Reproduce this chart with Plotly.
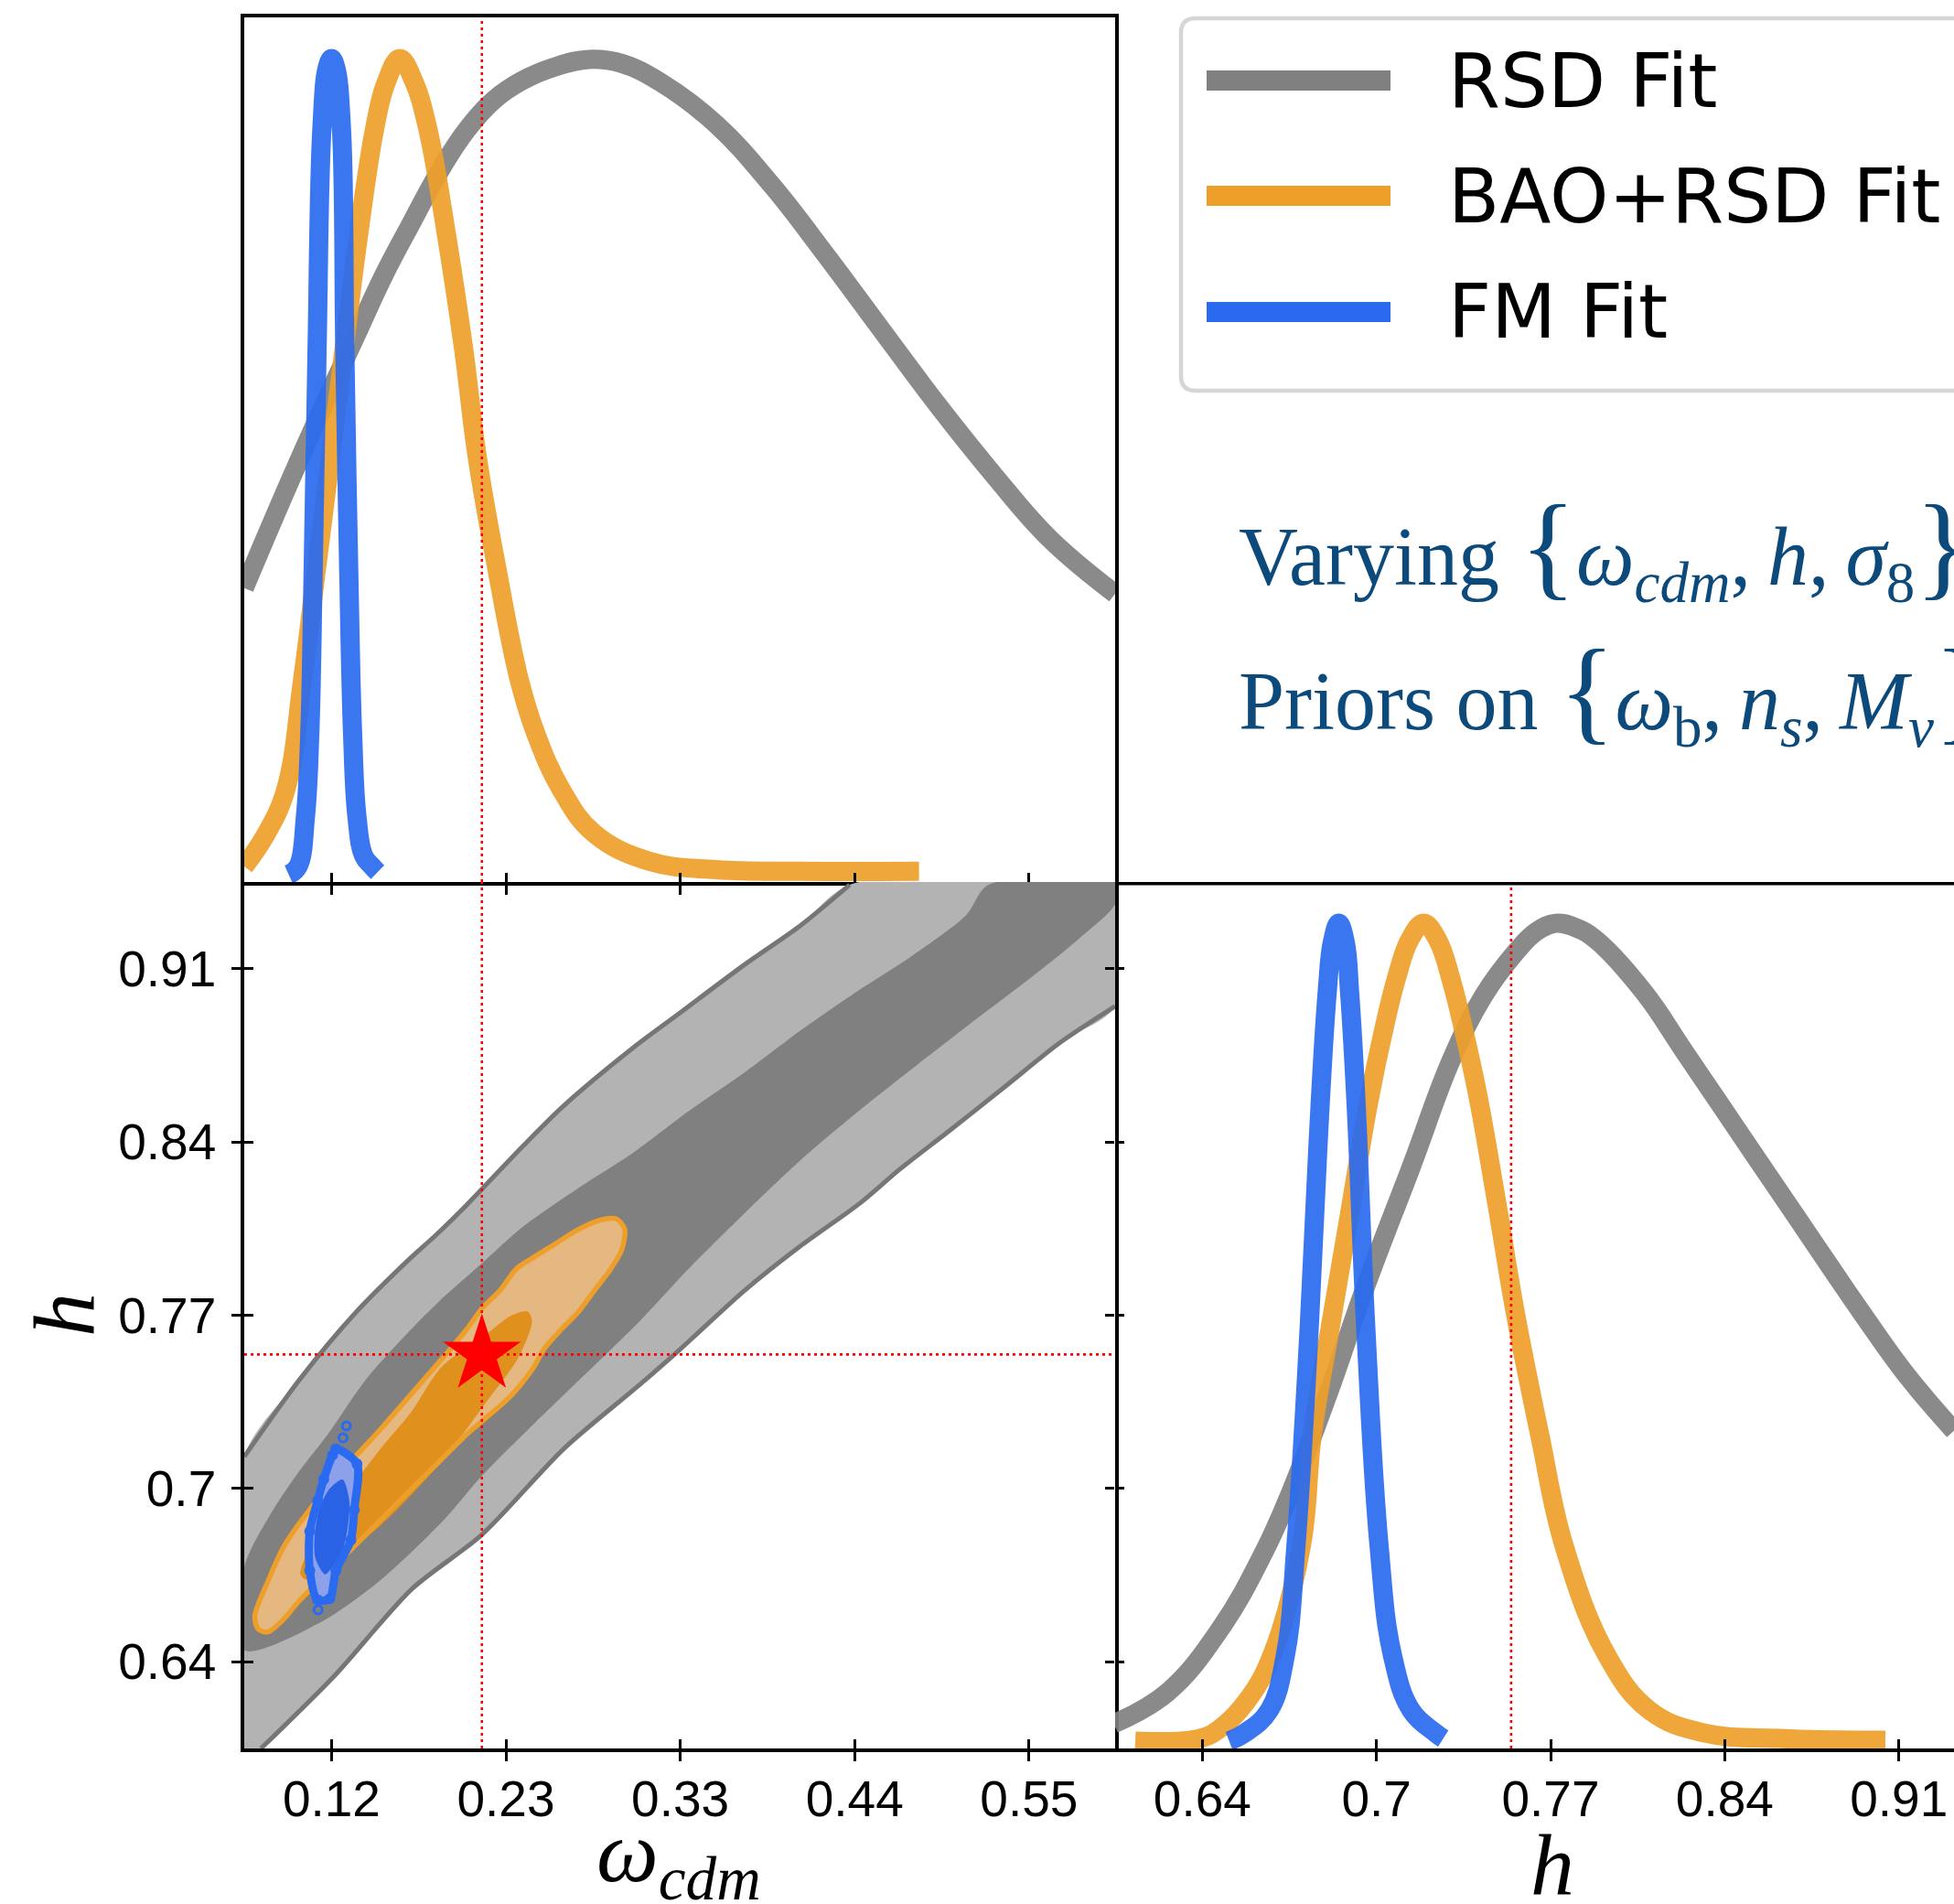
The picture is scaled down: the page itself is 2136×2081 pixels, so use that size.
import plotly.graph_objects as go

# ---------------------------------------------------------------- geometry
FIG_W, FIG_H = 2136, 2081


def fx(px):
    return px / FIG_W


def fy(py):
    return 1 - py / FIG_H


LEFT = (267, 1219)      # x extent of the left column of panels (px)
RIGHT = (1219, 2136)    # visible x extent of the right column (px)
TOP = (19, 964)         # y extent of the upper row (px)
BOTTOM = (964, 1911)    # y extent of the lower row (px)
PANEL_W = LEFT[1] - LEFT[0]
SPINE_W = 3.5

# ---------------------------------------------------------------- axes
OMEGA_RANGE = [0.0662, 0.6031]
H_RANGE = [0.6037, 0.9413]
DENS_MAX = 1.05
OMEGA_TICKS = [0.12, 0.2275, 0.335, 0.4425, 0.55]
OMEGA_TICK_TEXT = ["0.12", "0.23", "0.33", "0.44", "0.55"]
H_TICKS = [0.6375, 0.705, 0.7725, 0.84, 0.9075]
H_TICK_TEXT = ["0.64", "0.7", "0.77", "0.84", "0.91"]
TRUTH_OMEGA = 0.2127
TRUTH_H = 0.7572

SERIES = ["RSD Fit", "BAO+RSD Fit", "FM Fit"]

# ---------------------------------------------------------------- 1D marginals (peak-normalised)
RSD_W_X = [0.0662, 0.1004, 0.1347, 0.1518, 0.1689, 0.1860, 0.2032, 0.2203, 0.2374,
           0.2579, 0.2785, 0.2990, 0.3230, 0.3572, 0.3915, 0.4257, 0.4600, 0.4942,
           0.5284, 0.5627, 0.6031]
RSD_W_P = [0.357, 0.514, 0.662, 0.735, 0.799, 0.861, 0.913, 0.950, 0.973,
           0.990, 0.999, 0.994, 0.971, 0.920, 0.846, 0.759, 0.668, 0.578,
           0.494, 0.417, 0.350]

BAO_W_X = [0.0662, 0.0799, 0.0919, 0.1022, 0.1107, 0.1193, 0.1278, 0.1364, 0.1467,
           0.1535, 0.1621, 0.1706, 0.1792, 0.1912, 0.2014, 0.2100, 0.2220, 0.2357,
           0.2460, 0.2614, 0.2819, 0.3162, 0.3572, 0.4086, 0.4822]
BAO_W_P = [0.019, 0.059, 0.113, 0.246, 0.380, 0.514, 0.648, 0.782, 0.916,
           0.970, 1.000, 0.973, 0.916, 0.782, 0.648, 0.514, 0.380, 0.246,
           0.180, 0.113, 0.059, 0.025, 0.015, 0.013, 0.013]

FM_W_X = [0.0936, 0.0994, 0.1039, 0.1066, 0.1087, 0.1111, 0.1141, 0.1175, 0.1200,
          0.1225, 0.1261, 0.1282, 0.1306, 0.1330, 0.1357, 0.1398, 0.1450, 0.1484]
FM_W_P = [0.009, 0.019, 0.079, 0.180, 0.380, 0.648, 0.916, 0.990, 1.000,
          0.990, 0.916, 0.648, 0.380, 0.180, 0.079, 0.032, 0.019, 0.012]

RSD_H_X = [0.6032, 0.6240, 0.6447, 0.6614, 0.6717, 0.6863, 0.7008, 0.7185, 0.7341,
           0.7465, 0.7590, 0.7670, 0.7745, 0.7820, 0.7901, 0.8088, 0.8234, 0.8379,
           0.8524, 0.8670, 0.8815, 0.8940, 0.9106, 0.9289]
RSD_H_P = [0.030, 0.068, 0.146, 0.238, 0.310, 0.430, 0.560, 0.705, 0.835,
           0.912, 0.965, 0.990, 1.000, 0.995, 0.980, 0.916, 0.849, 0.782,
           0.715, 0.648, 0.581, 0.524, 0.452, 0.385]

BAO_H_X = [0.6115, 0.6364, 0.6447, 0.6551, 0.6645, 0.6759, 0.6801, 0.6873, 0.6946,
           0.7019, 0.7081, 0.7129, 0.7179, 0.7233, 0.7287, 0.7341, 0.7392, 0.7444,
           0.7517, 0.7590, 0.7683, 0.7777, 0.7943, 0.8109, 0.8317, 0.8628, 0.9023]
BAO_H_P = [0.009, 0.012, 0.025, 0.059, 0.113, 0.246, 0.380, 0.514, 0.648,
           0.782, 0.875, 0.935, 0.980, 1.000, 0.980, 0.930, 0.865, 0.790,
           0.660, 0.525, 0.380, 0.246, 0.113, 0.046, 0.019, 0.012, 0.010]

FM_H_X = [0.6479, 0.6541, 0.6634, 0.6697, 0.6738, 0.6790, 0.6832, 0.6859, 0.6879,
          0.6904, 0.6929, 0.6946, 0.6971, 0.7008, 0.7060, 0.7112, 0.7185, 0.7278, 0.7309]
FM_H_P = [0.009, 0.019, 0.046, 0.113, 0.246, 0.514, 0.782, 0.916, 0.977,
          1.000, 0.977, 0.916, 0.782, 0.514, 0.246, 0.113, 0.046, 0.019, 0.012]

# ---------------------------------------------------------------- 2D credible regions (omega_cdm, h)
RSD_95_UP_W = [0.0662, 0.1004, 0.1347, 0.1689, 0.1843, 0.2032, 0.2374, 0.2631, 0.3059,
               0.3333, 0.3744, 0.4086, 0.4394]
RSD_95_UP_H = [0.7174, 0.7475, 0.7734, 0.7949, 0.8037, 0.8154, 0.8380, 0.8541, 0.8767,
               0.8896, 0.9090, 0.9241, 0.9402]
RSD_95_LO_W = [0.6031, 0.5695, 0.5353, 0.5010, 0.4702, 0.4463, 0.4086, 0.3744, 0.3333,
               0.3103, 0.2634, 0.2127, 0.1693, 0.1227, 0.0765]
RSD_95_LO_H = [0.8929, 0.8789, 0.8616, 0.8444, 0.8293, 0.8164, 0.7992, 0.7820, 0.7583,
               0.7456, 0.7206, 0.6870, 0.6657, 0.6326, 0.6037]

RSD_68_UP_W = [0.0662, 0.0833, 0.1004, 0.1176, 0.1412, 0.1689, 0.1860, 0.2127, 0.2374,
               0.2716, 0.3059, 0.3401, 0.3744, 0.4086, 0.4428, 0.4771, 0.5113, 0.5250]
RSD_68_UP_H = [0.6743, 0.6959, 0.7120, 0.7260, 0.7475, 0.7669, 0.7777, 0.7927, 0.8067,
               0.8218, 0.8358, 0.8520, 0.8670, 0.8832, 0.8982, 0.9122, 0.9284, 0.9402]
RSD_68_LO_W = [0.6031, 0.5798, 0.5524, 0.5113, 0.4771, 0.4428, 0.4086, 0.3744, 0.3401,
               0.3103, 0.2446, 0.2127, 0.1881, 0.1504, 0.1131, 0.0662]
RSD_68_LO_H = [0.9327, 0.9187, 0.9047, 0.8849, 0.8681, 0.8509, 0.8326, 0.8121, 0.7906,
               0.7704, 0.7301, 0.7099, 0.6920, 0.6694, 0.6528, 0.6420]

BAO_95_W = [0.0727, 0.0816, 0.0902, 0.1004, 0.1176, 0.1347, 0.1518, 0.1693, 0.1860,
            0.2032, 0.2127, 0.2237, 0.2340, 0.2442, 0.2579, 0.2716, 0.2853, 0.2956,
            0.3007, 0.2990, 0.2922, 0.2819, 0.2716, 0.2614, 0.2511, 0.2442, 0.2306,
            0.2127, 0.2032, 0.1860, 0.1689, 0.1518, 0.1347, 0.1176, 0.1004, 0.0902,
            0.0809, 0.0748, 0.0727]
BAO_95_H = [0.6552, 0.6700, 0.6819, 0.6916, 0.7055, 0.7174, 0.7292, 0.7419, 0.7540,
            0.7669, 0.7751, 0.7820, 0.7906, 0.7949, 0.8003, 0.8057, 0.8095, 0.8100,
            0.8061, 0.7981, 0.7906, 0.7820, 0.7734, 0.7669, 0.7594, 0.7518, 0.7411,
            0.7312, 0.7260, 0.7152, 0.7045, 0.6937, 0.6829, 0.6722, 0.6614, 0.6539,
            0.6491, 0.6502, 0.6552]

BAO_68_W = [0.1008, 0.1073, 0.1210, 0.1504, 0.1689, 0.1881, 0.2165, 0.2306, 0.2408,
            0.2436, 0.2353, 0.2165, 0.1881, 0.1504, 0.1131, 0.1039, 0.1008]
BAO_68_H = [0.6717, 0.6829, 0.6959, 0.7206, 0.7346, 0.7525, 0.7656, 0.7723, 0.7740,
            0.7701, 0.7561, 0.7396, 0.7157, 0.6907, 0.6730, 0.6696, 0.6717]

FM_95_W = [0.1227, 0.1357, 0.1340, 0.1319, 0.1227, 0.1189, 0.1114, 0.1066, 0.1066,
           0.1114, 0.1152, 0.1206, 0.1227]
FM_95_H = [0.7204, 0.7146, 0.6967, 0.6849, 0.6730, 0.6621, 0.6616, 0.6730, 0.6883,
           0.7002, 0.7086, 0.7180, 0.7204]
FM_68_W = [0.1268, 0.1310, 0.1300, 0.1268, 0.1200, 0.1160, 0.1100, 0.1098, 0.1130,
           0.1190, 0.1268]
FM_68_H = [0.7085, 0.7000, 0.6900, 0.6810, 0.6740, 0.6715, 0.6780, 0.6880, 0.6980,
           0.7050, 0.7085]
FM_OUTLIER_W = [0.1292, 0.1271, 0.1117]
FM_OUTLIER_H = [0.7294, 0.7247, 0.6577]

# ---------------------------------------------------------------- colours
GRAY = "#808080"
ORANGE = "#EE9F2A"
BLUE = "#2A6AF0"
LINE_RGBA = ["rgba(128,128,128,0.92)", "rgba(238,159,42,0.92)", "rgba(42,106,240,0.92)"]
GRAY_LIGHT, GRAY_DARK, GRAY_EDGE = "#B3B3B3", "#808080", "#767676"
ORANGE_LIGHT, ORANGE_DARK = "#E6B881", "#E0901C"
BLUE_LIGHT, BLUE_DARK = "#8CA1EA", "#2A62E6"
TEXT_BLUE = "#0C4A7C"

fig = go.Figure()


def line1d(x, y, color, xa, ya):
    fig.add_trace(go.Scatter(x=x, y=y, mode="lines", xaxis=xa, yaxis=ya,
                             line=dict(color=color, width=21, shape="spline", smoothing=1.15),
                             hoverinfo="skip", showlegend=False))


def region(x, y, fill, xa="x2", ya="y2"):
    fig.add_trace(go.Scatter(x=x, y=y, mode="lines", fill="toself", fillcolor=fill,
                             line=dict(width=0, shape="spline", smoothing=0.8),
                             xaxis=xa, yaxis=ya, hoverinfo="skip", showlegend=False))


def edge(x, y, color, width, xa="x2", ya="y2", marker=None):
    fig.add_trace(go.Scatter(x=x, y=y, mode="lines+markers" if marker else "lines",
                             line=dict(color=color, width=width, shape="spline", smoothing=0.8),
                             marker=marker, xaxis=xa, yaxis=ya,
                             hoverinfo="skip", showlegend=False))


# top-left: omega_cdm marginals
line1d(RSD_W_X, RSD_W_P, LINE_RGBA[0], "x", "y")
line1d(BAO_W_X, BAO_W_P, LINE_RGBA[1], "x", "y")
line1d(FM_W_X, FM_W_P, LINE_RGBA[2], "x", "y")

# bottom-right: h marginals
line1d(RSD_H_X, RSD_H_P, LINE_RGBA[0], "x3", "y3")
line1d(BAO_H_X, BAO_H_P, LINE_RGBA[1], "x3", "y3")
line1d(FM_H_X, FM_H_P, LINE_RGBA[2], "x3", "y3")

# bottom-left: joint constraints
w0, w1 = OMEGA_RANGE
h0, h1 = H_RANGE
rsd95_w = RSD_95_UP_W + [w1] + RSD_95_LO_W + [w0, RSD_95_UP_W[0]]
rsd95_h = RSD_95_UP_H + [h1] + RSD_95_LO_H + [h0, RSD_95_UP_H[0]]
region(rsd95_w, rsd95_h, GRAY_LIGHT)
rsd68_w = RSD_68_UP_W + [w1] + RSD_68_LO_W + [RSD_68_UP_W[0]]
rsd68_h = RSD_68_UP_H + [h1] + RSD_68_LO_H + [RSD_68_UP_H[0]]
region(rsd68_w, rsd68_h, GRAY_DARK)
edge(RSD_95_UP_W, RSD_95_UP_H, GRAY_EDGE, 5)
edge(RSD_95_LO_W, RSD_95_LO_H, GRAY_EDGE, 5)

region(BAO_95_W, BAO_95_H, ORANGE_LIGHT)
region(BAO_68_W, BAO_68_H, ORANGE_DARK)
edge(BAO_95_W, BAO_95_H, ORANGE, 5.5)

region(FM_95_W, FM_95_H, BLUE_LIGHT)
region(FM_68_W, FM_68_H, BLUE_DARK)
edge(FM_95_W, FM_95_H, BLUE, 9, marker=dict(size=12, color=BLUE))
fig.add_trace(go.Scatter(x=FM_OUTLIER_W, y=FM_OUTLIER_H, mode="markers", xaxis="x2", yaxis="y2",
                         marker=dict(size=9, color="rgba(0,0,0,0)", line=dict(color=BLUE, width=3)),
                         hoverinfo="skip", showlegend=False))

fig.add_trace(go.Scatter(x=[TRUTH_OMEGA], y=[TRUTH_H], mode="markers", xaxis="x2", yaxis="y2",
                         marker=dict(symbol="star", size=64, color="red", line=dict(width=0)),
                         hoverinfo="skip", showlegend=False))

# ---------------------------------------------------------------- axes
right_hi = h0 + (RIGHT[1] - RIGHT[0]) / PANEL_W * (h1 - h0)
h_as_density = [(t - h0) / (h1 - h0) * DENS_MAX for t in H_TICKS]

TICK_FONT = dict(family="Liberation Sans, Arial, sans-serif", size=55, color="black")
BASE = dict(linecolor="black", linewidth=SPINE_W, showgrid=False, zeroline=False,
            tickcolor="black", tickwidth=3, ticklen=10)
INSIDE = dict(ticks="inside", ticklen=10, tickwidth=3, tickcolor="black", showline=False,
              showgrid=False, zeroline=False, showticklabels=False)

dom_lx = [fx(LEFT[0]), fx(LEFT[1])]
dom_rx = [fx(RIGHT[0]), 1.0]
dom_ty = [fy(TOP[1]), fy(TOP[0])]
dom_by = [fy(BOTTOM[1]), fy(BOTTOM[0])]

layout_axes = dict(
    xaxis=dict(domain=dom_lx, anchor="y", range=OMEGA_RANGE, showline=True, mirror=True,
               ticks="outside", tickvals=OMEGA_TICKS, showticklabels=False, **BASE),
    yaxis=dict(domain=dom_ty, anchor="x", range=[0, DENS_MAX], showline=True, mirror=True,
               ticks="", showticklabels=False, **BASE),
    xaxis2=dict(domain=dom_lx, anchor="y2", range=OMEGA_RANGE, showline=True, mirror=False,
                ticks="outside", tickvals=OMEGA_TICKS, ticktext=OMEGA_TICK_TEXT,
                tickfont=TICK_FONT, ticklabelstandoff=-6, **BASE),
    yaxis2=dict(domain=dom_by, anchor="x2", range=H_RANGE, showline=True, mirror=True,
                ticks="outside", tickvals=H_TICKS, ticktext=H_TICK_TEXT, tickfont=TICK_FONT,
                ticklabelstandoff=6, **BASE),
    xaxis3=dict(domain=dom_rx, anchor="y3", range=[h0, right_hi], showline=True, mirror=False,
                ticks="outside", tickvals=H_TICKS, ticktext=H_TICK_TEXT, tickfont=TICK_FONT,
                ticklabelstandoff=-6, **BASE),
    yaxis3=dict(domain=dom_by, anchor="x3", range=[0, DENS_MAX], showline=False,
                ticks="outside", tickvals=h_as_density, showticklabels=False, **BASE),
    xaxis4=dict(domain=dom_lx, overlaying="x", anchor="y", range=OMEGA_RANGE,
                tickvals=OMEGA_TICKS, **INSIDE),
    xaxis5=dict(domain=dom_lx, overlaying="x2", anchor="y2", range=OMEGA_RANGE,
                tickvals=OMEGA_TICKS, **INSIDE),
    yaxis4=dict(domain=dom_by, overlaying="y2", anchor="x2", range=H_RANGE,
                tickvals=H_TICKS, **INSIDE),
    xaxis6=dict(domain=dom_rx, overlaying="x3", anchor="y3", range=[h0, right_hi],
                tickvals=H_TICKS, **INSIDE),
    yaxis5=dict(domain=dom_by, overlaying="y3", anchor="x3", range=[0, DENS_MAX],
                tickvals=h_as_density, **INSIDE),
)

# empty carriers so the inward-tick axes are laid out
for xa, ya in [("x4", "y"), ("x5", "y2"), ("x2", "y4"), ("x6", "y3"), ("x3", "y5")]:
    fig.add_trace(go.Scatter(x=[None], y=[None], xaxis=xa, yaxis=ya, mode="markers",
                             hoverinfo="skip", showlegend=False))

# ---------------------------------------------------------------- reference value lines
DOT = dict(color="red", width=2.6, dash="3px,4px")
shapes = [
    dict(type="line", xref="x", yref="y domain", x0=TRUTH_OMEGA, x1=TRUTH_OMEGA, y0=0, y1=1,
         line=DOT, layer="above"),
    dict(type="line", xref="x2", yref="y2 domain", x0=TRUTH_OMEGA, x1=TRUTH_OMEGA, y0=0, y1=1,
         line=DOT, layer="above"),
    dict(type="line", xref="x2 domain", yref="y2", x0=0, x1=1, y0=TRUTH_H, y1=TRUTH_H,
         line=DOT, layer="above"),
    dict(type="line", xref="x3", yref="y3 domain", x0=TRUTH_H, x1=TRUTH_H, y0=0, y1=1,
         line=DOT, layer="above"),
    # top edge of the lower-right panel, continuing the upper panel's bottom spine
    dict(type="line", xref="paper", yref="paper", x0=fx(RIGHT[0]), x1=1.0,
         y0=fy(TOP[1] + SPINE_W / 2), y1=fy(TOP[1] + SPINE_W / 2),
         line=dict(color="black", width=SPINE_W), layer="above"),
]

# ---------------------------------------------------------------- legend box
bx0, bx1, by0, by1, rad = 1291, 2200, 20, 427, 16
rx, ry = rad / FIG_W, rad / FIG_H
box_path = (f"M{fx(bx1)},{fy(by0)} L{fx(bx0) + rx},{fy(by0)} "
            f"Q{fx(bx0)},{fy(by0)} {fx(bx0)},{fy(by0) - ry} "
            f"L{fx(bx0)},{fy(by1) + ry} Q{fx(bx0)},{fy(by1)} {fx(bx0) + rx},{fy(by1)} "
            f"L{fx(bx1)},{fy(by1)} Z")
shapes.append(dict(type="path", xref="paper", yref="paper", path=box_path,
                   fillcolor="white", line=dict(color="#D6D6D6", width=4.5), layer="above"))

annotations = []
legend_rows = [88, 214, 341]
for name, color, yrow in zip(SERIES, [GRAY, ORANGE, BLUE], legend_rows):
    shapes.append(dict(type="line", xref="paper", yref="paper", x0=fx(1319), x1=fx(1520),
                       y0=fy(yrow), y1=fy(yrow), line=dict(color=color, width=22), layer="above"))
    annotations.append(dict(text=name, xref="paper", yref="paper", x=fx(1581), y=fy(yrow),
                            xanchor="left", yanchor="middle", showarrow=False,
                            font=dict(family="DejaVu Sans", size=82, color="black")))

# ---------------------------------------------------------------- text
TS = "\u2009"
BR = '<span style="font-size:128px">{}</span>'
line_vary = ("Varying " + BR.format("{") + "<i>ω</i><sub><i>cdm</i></sub>," + TS + "<i>h</i>,"
             + TS + "<i>σ</i><sub>8</sub>" + BR.format("}"))
line_prior = ("Priors on " + BR.format("{") + "<i>ω</i><sub>b</sub>," + TS
              + "<i>n</i><sub><i>s</i></sub>," + TS + "<i>M</i><sub><i>ν</i></sub>"
              + BR.format("}"))
for txt, yc in [(line_vary, 598), (line_prior, 756)]:
    annotations.append(dict(text=txt, xref="paper", yref="paper", x=fx(1352), y=fy(yc),
                            xanchor="left", yanchor="middle", showarrow=False,
                            font=dict(family="Liberation Serif, serif", size=90, color=TEXT_BLUE)))

TITLE_FONT = dict(family="Liberation Serif, serif", size=96, color="black")
annotations += [
    dict(text="<i>ω</i><sub><i>cdm</i></sub>", xref="paper", yref="paper", x=fx(742), y=fy(2030),
         xanchor="center", yanchor="middle", showarrow=False, font=TITLE_FONT),
    dict(text="<i>h</i>", xref="paper", yref="paper", x=fx(1697), y=fy(2038),
         xanchor="center", yanchor="middle", showarrow=False, font=TITLE_FONT),
    dict(text="<i>h</i>", xref="paper", yref="paper", x=fx(70), y=fy(1437), textangle=-90,
         xanchor="center", yanchor="middle", showarrow=False, font=TITLE_FONT),
]

fig.update_layout(
    width=FIG_W, height=FIG_H, margin=dict(l=0, r=0, t=0, b=0, pad=0),
    paper_bgcolor="white", plot_bgcolor="rgba(0,0,0,0)", showlegend=False,
    shapes=shapes, annotations=annotations, **layout_axes,
)

fig.write_html("out.html")
